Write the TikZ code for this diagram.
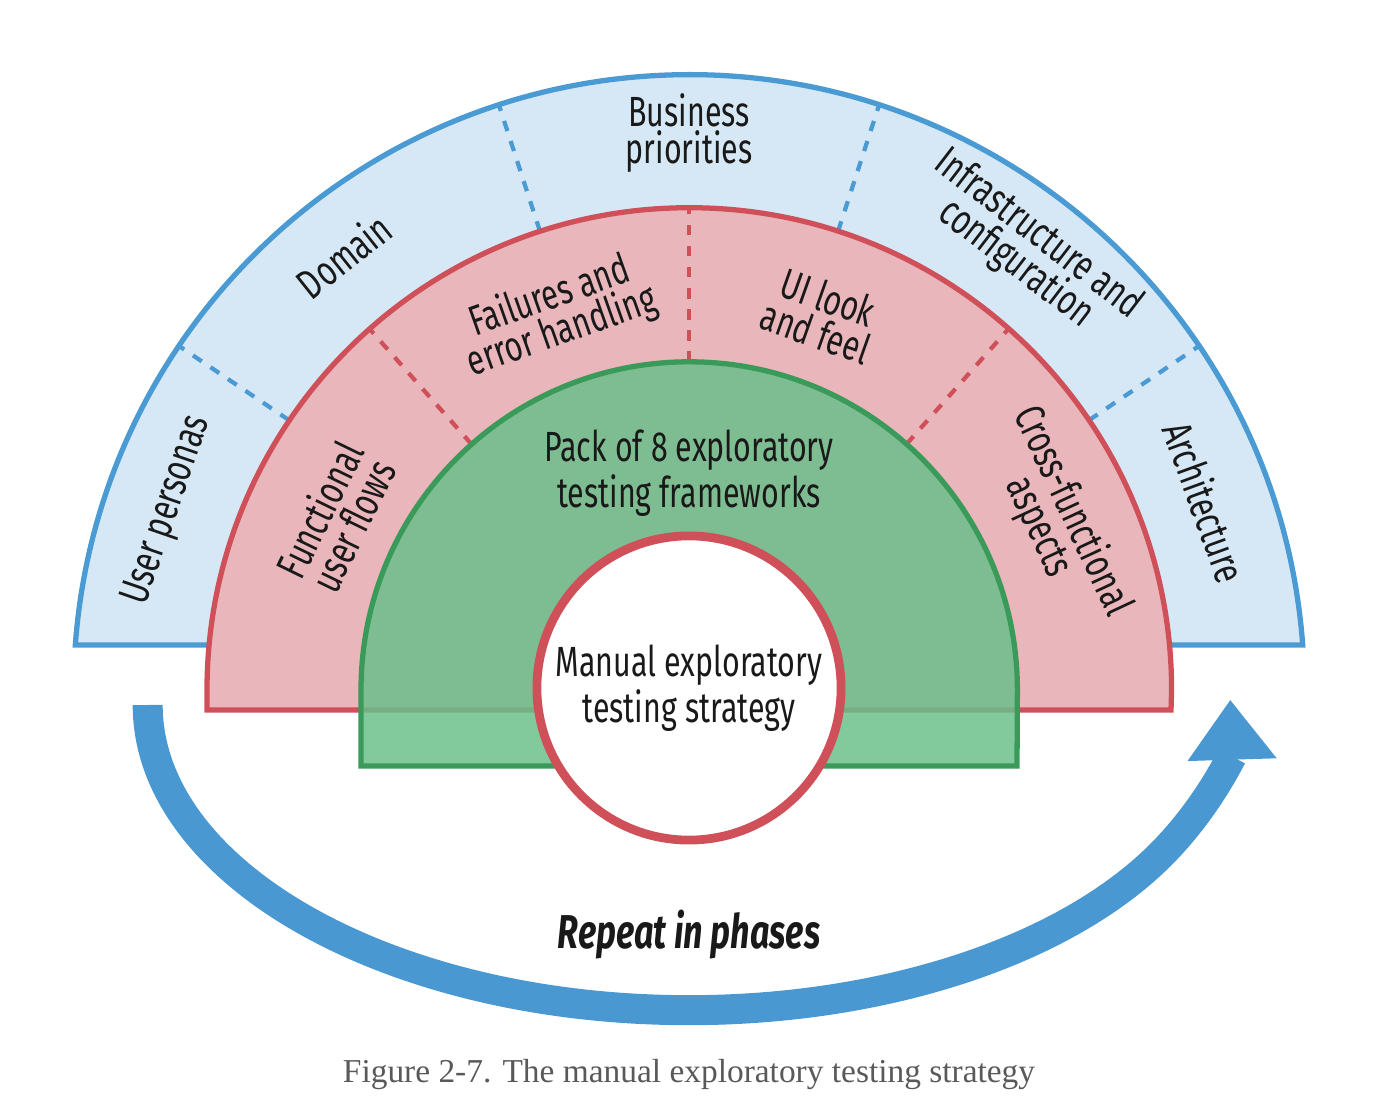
\documentclass[tikz,border=0pt]{standalone}
\usepackage{fontspec}
\setmainfont{Fira Sans}[FakeStretch=0.72]
\newfontfamily\capfont{Liberation Serif}
\usetikzlibrary{arrows.meta,calc}
\definecolor{bfill}{HTML}{D6E8F5}
\definecolor{bline}{HTML}{4A9AD4}
\definecolor{rfill}{HTML}{E8B6BB}
\definecolor{rline}{HTML}{D0505A}
\definecolor{gfill}{HTML}{6CBF8A}
\definecolor{gline}{HTML}{3A9A5A}
\definecolor{arrowc}{HTML}{4A98D2}
\tikzset{
  lab/.style={font=\fontsize{12}{10.5}\selectfont, align=center, text=black!90, inner sep=0pt},
  bdash/.style={bline, dashed, line width=1.2pt},
  rdash/.style={rline, dashed, line width=1.2pt}
}
\begin{document}
\begin{tikzpicture}[x=0.01cm,y=0.01cm]
\useasboundingbox (0,0) rectangle (1392,1100);
\coordinate (C) at (689,410);
% blue
\draw[bline, fill=bfill, line width=1.5pt] ($(C)+(4.2:6.15cm)$) arc (4.2:175.8:6.15cm) -- cycle;
\foreach \a in {34,72,108,146} \draw[bdash] ($(C)+(\a:4.82cm)$) -- ($(C)+(\a:6.15cm)$);
% red
\draw[rline, fill=rfill, line width=1.5pt] (207,390) -- (207,410) arc (180:0:4.82cm) -- (1171,390) -- cycle;
\foreach \a in {48.5,90,131.5} \draw[rdash] ($(C)+(\a:3.28cm)$) -- ($(C)+(\a:4.82cm)$);
% green
\draw[gline, fill=gfill, fill opacity=0.85, line width=1.5pt] (361,334) -- (361,410) arc (180:0:3.28cm) -- (1017,334) -- cycle;
% white circle
\node[circle, draw=rline, fill=white, line width=2.5pt, minimum size=3.04cm, inner sep=0pt] (core) at (689,412) {};
\node[lab] (manual) at (689,412) {Manual exploratory\\testing strategy};
\node[lab] (pack) at (689,627) {Pack of 8 exploratory\\testing frameworks};
% blue labels
\node[lab, rotate=71] (up) at ($(C)+(161:5.51cm)$) {User personas};
\node[lab, rotate=38.5] (dom) at ($(C)+(128.5:5.55cm)$) {Domain};
\node[lab] (bus) at ($(C)+(90:5.57cm)$) {Business\\priorities};
\node[lab, rotate=-37.5] (inf) at ($(C)+(52.5:5.55cm)$) {Infrastructure and\\configuration};
\node[lab, rotate=-70] (arch) at ($(C)+(20:5.49cm)$) {Architecture};
% red labels
\node[lab, rotate=64] (fun) at ($(C)+(154:3.93cm)$) {Functional\\user flows};
\node[lab, rotate=19.5] (fail) at ($(C)+(109.5:3.98cm)$) {Failures and\\error handling};
\node[lab, rotate=-19.5] (ui) at ($(C)+(70.5:3.98cm)$) {UI look\\and feel};
\node[lab, rotate=-65] (cf) at ($(C)+(25:4.04cm)$) {Cross-functional\\aspects};
% arrow
\coordinate (A) at (689,395);
\draw[arrowc, line width=0.3cm, -{Triangle[length=0.6cm,width=0.85cm]}] ($(A)+(180:5.41cm and 3.05cm)$) arc[start angle=180, end angle=361, x radius=5.41cm, y radius=3.05cm];
\node[lab, font=\fontsize{13.5}{15}\selectfont\bfseries\itshape] (rep) at (689,165) {Repeat in phases};
\node[font=\capfont\fontsize{9.5}{12}\selectfont, text=black!65] (cap) at (689,25) {Figure 2-7. The manual exploratory testing strategy};
\end{tikzpicture}
\end{document}
